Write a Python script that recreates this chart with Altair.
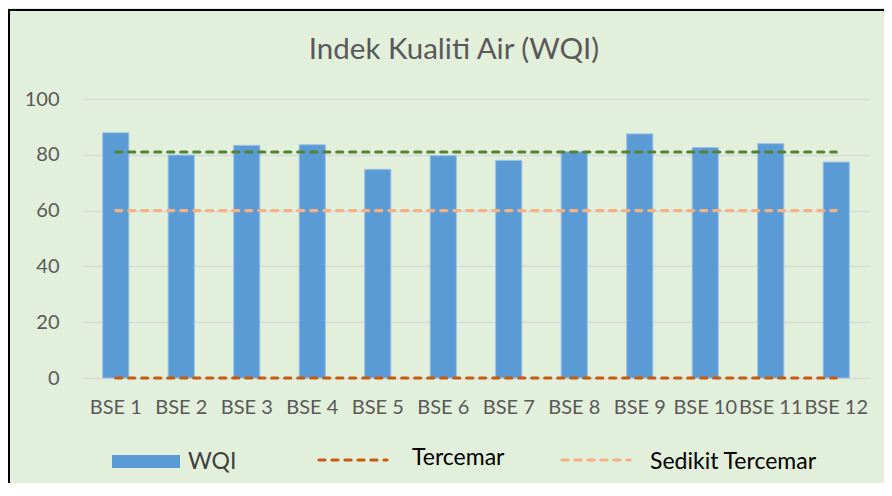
import altair as alt
import pandas as pd

categories = ["BSE 1", "BSE 2", "BSE 3", "BSE 4", "BSE 5", "BSE 6",
              "BSE 7", "BSE 8", "BSE 9", "BSE 10", "BSE 11", "BSE 12"]
wqi = [87.9, 79.9, 83.4, 83.6, 74.8, 79.7, 78.0, 81.1, 87.5, 82.6, 84.0, 77.4]
tercemar = [0] * 12
sedikit_tercemar = [60] * 12
bersih = [81] * 12
y_ticks = [0, 20, 40, 60, 80, 100]
legend_names = ["WQI", "Tercemar", "Sedikit Tercemar"]

FONT = "Lato"
GREY = "#595959"

df = pd.DataFrame({"cat": categories, "WQI": wqi, "Tercemar": tercemar,
                   "Sedikit Tercemar": sedikit_tercemar, "Bersih": bersih})

W, H = 786, 279

x = alt.X("cat:N", sort=categories, title=None,
          scale=alt.Scale(paddingInner=0.6, paddingOuter=0.3),
          axis=alt.Axis(labelAngle=0, labelFont=FONT, labelFontSize=20,
                        labelColor=GREY, labelPadding=19, domain=False,
                        ticks=False, grid=False, labelOverlap=False))
y = alt.Y("WQI:Q", title=None,
          scale=alt.Scale(domain=[0, 100], nice=False),
          axis=alt.Axis(values=y_ticks, labelFont=FONT, labelFontSize=20,
                        labelColor=GREY, labelPadding=24, domain=False,
                        ticks=False, gridColor="#D9D9D9", gridWidth=1.5))

base = alt.Chart(df)
bars = base.mark_bar(color="#5B9BD5", stroke="#9DC3E6", strokeWidth=1).encode(x=x, y=y)


def dline(field, color):
    return base.mark_line(color=color, strokeWidth=3.2, strokeDash=[6, 7],
                          strokeCap="round").encode(
        x=alt.X("cat:N", sort=categories),
        y=alt.Y(f"{field}:Q"))


green = dline("Bersih", "#548235")
light = dline("Sedikit Tercemar", "#F4B183")
dark = dline("Tercemar", "#C55A11")


def text_at(txt, xp, yp, size, color):
    return alt.Chart(pd.DataFrame({"t": [txt]})).mark_text(
        font=FONT, fontSize=size, color=color, align="left", baseline="middle"
    ).encode(text="t:N", x=alt.value(xp), y=alt.value(yp))


title = alt.Chart(pd.DataFrame({"t": ["Indek Kualiti Air (WQI)"]})).mark_text(
    font=FONT, fontSize=29.5, color=GREY, align="center", baseline="alphabetic"
).encode(text="t:N", x=alt.value(371), y=alt.value(-40))

# legend
leg_rect = alt.Chart(pd.DataFrame({"k": [legend_names[0]]})).mark_rect(color="#5B9BD5").encode(
    x=alt.value(29), x2=alt.value(97), y=alt.value(356), y2=alt.value(369))
leg_dark = alt.Chart(pd.DataFrame({"k": [legend_names[1]]})).mark_rule(
    color="#C55A11", strokeWidth=3.2, strokeDash=[6, 7], strokeCap="round").encode(
    x=alt.value(236), x2=alt.value(304), y=alt.value(361))
leg_light = alt.Chart(pd.DataFrame({"k": [legend_names[2]]})).mark_rule(
    color="#F4B183", strokeWidth=3.2, strokeDash=[6, 7], strokeCap="round").encode(
    x=alt.value(479), x2=alt.value(547), y=alt.value(361))
t1 = text_at(legend_names[0], 105, 363, 23, "#404040")
t2 = text_at(legend_names[1], 329, 359, 23, "#000000")
t3 = text_at(legend_names[2], 567, 363, 23, "#000000")

# frame (left & top border)
frame_l = alt.Chart(pd.DataFrame({"k": [1]})).mark_rule(color="#000000", strokeWidth=2).encode(
    x=alt.value(-74), y=alt.value(-90), y2=alt.value(420))
frame_t = alt.Chart(pd.DataFrame({"k": [1]})).mark_rule(color="#000000", strokeWidth=2).encode(
    x=alt.value(-75), x2=alt.value(820), y=alt.value(-89))

chart = alt.layer(bars, green, light, dark, title, leg_rect, leg_dark, leg_light,
                  t1, t2, t3, frame_l, frame_t).properties(
    width=W, height=H,
    autosize=alt.AutoSizeParams(type="none"),
    padding={"left": 75, "top": 91, "right": 15, "bottom": 105},
    background="#E2EFDA",
).configure_view(stroke=None)

chart.save("out.html", embed_options={"renderer": "svg", "actions": False})
